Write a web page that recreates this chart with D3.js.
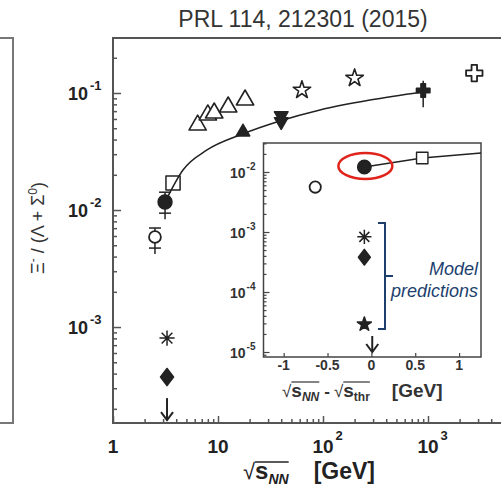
<!DOCTYPE html>
<html lang="en">
<head>
<meta charset="UTF-8">
<script src="https://cdnjs.cloudflare.com/ajax/libs/d3/7.8.5/d3.min.js"></script>
<title>Xi ratio</title>
<style>
  body { margin: 0; background: #fff; }
  svg { display: block; font-family: "Liberation Sans", Arial, Helvetica, sans-serif; }
</style>
</head>
<body>
<div id="chart"></div>
<script>
// ---- main panel data: sqrt(s_NN) [GeV] vs Xi-/(Lambda+Sigma0) ----
let openTriX = [6.4, 8.0, 9.2, 12.5, 18.1];
let openTriY = [0.0532, 0.0649, 0.0675, 0.0759, 0.0871];
let fillTriUpX = [17.3];
let fillTriUpY = [0.0464];
let fillTriDownX = [40, 40];
let fillTriDownY = [0.064, 0.057];
let openStarX = [63, 200];
let openStarY = [0.106, 0.134];
let fillCrossX = [900];
let fillCrossY = [0.105];
let openCrossX = [2760];
let openCrossY = [0.148];
let openSquareX = [3.73];
let openSquareY = [0.0170];
let fillCircleX = [3.13];
let fillCircleY = [0.0117];
let fillCircleErr = [[0.0094, 0.0142]];
let openCircleX = [2.51];
let openCircleY = [0.00588];
let openCircleErr = [[0.00473, 0.00702]];
let modelX = [3.27];
let asteriskY = [8.05e-4];
let diamondY = [3.74e-4];
let limitY = [2.47e-4];
let fitX = [3.13, 4.64, 7.86, 16.2, 38.9, 93.6, 280, 896];
let fitY = [0.0117, 0.0220, 0.0326, 0.0438, 0.0577, 0.0716, 0.087, 0.102];

// ---- inset data: sqrt(s_NN) - sqrt(s_thr) [GeV] ----
let inOpenCircleX = [-0.64];
let inOpenCircleY = [0.0056];
let inFillCircleX = [-0.08];
let inFillCircleY = [0.0121];
let inSquareX = [0.58];
let inSquareY = [0.0171];
let inFitX = [-0.08, 0.58, 1.25];
let inFitY = [0.0121, 0.0171, 0.0207];
let inModelX = [-0.08];
let inAsteriskY = [8.3e-4];
let inDiamondY = [3.8e-4];
let inStarY = [2.9e-5];
let inLimitX = [0.01];
let inLimitY = [1.85e-5];

// tick labels
let mainXTicks = [1, 10, 100, 1000];
let mainXLabels = [["1", ""], ["10", ""], ["10", "2"], ["10", "3"]];
let mainYTicks = [1e-3, 1e-2, 1e-1];
let mainYLabels = [["10", "-3"], ["10", "-2"], ["10", "-1"]];
let inXTicks = [-1, -0.5, 0, 0.5, 1];
let inXLabels = ["-1", "-0.5", "0", "0.5", "1"];
let inYTicks = [1e-5, 1e-4, 1e-3, 1e-2];
let inYLabels = [["10", "-5"], ["10", "-4"], ["10", "-3"], ["10", "-2"]];

let width = 501, height = 495;
let ink = "#222", axisCol = "#555", blue = "#1d3f6e";

let svg = d3.select("#chart").append("svg")
  .attr("width", width).attr("height", height);

// scales
let x = d3.scaleLog().domain([1, 1e4]).range([113, 533]);
let y = d3.scaleLog().domain([Math.pow(10, -3.82), Math.pow(10, -0.53)]).range([423, 38]);
let xi = d3.scaleLinear().domain([-1.23, 1.25]).range([263.5, 481]);
let yi = d3.scaleLog().domain([Math.pow(10, -5.083), Math.pow(10, -1.517)]).range([357, 143]);

// minor tick helper for log scales
function minors(scale) {
  let d = scale.domain(), out = [];
  for (let e = -6; e <= 4; e++) for (let k = 2; k <= 9; k++) {
    let v = k * Math.pow(10, e);
    if (v > d[0] && v < d[1]) out.push(v);
  }
  return out;
}

// text runs placed one after another (for sub/superscripts)
function runs(g, x0, y0, parts, fill) {
  let cx = x0, pos = [];
  parts.forEach(p => {
    let t = g.append("text").attr("x", cx).attr("y", y0 + (p.dy || 0))
      .attr("font-size", p.size)
      .attr("font-weight", p.bold ? "bold" : "normal")
      .attr("font-style", p.italic ? "italic" : "normal")
      .attr("fill", p.fill || fill || ink)
      .text(p.t);
    let w = t.node().getComputedTextLength();
    pos.push([cx, cx + w]);
    cx += w + (p.gap || 0);
  });
  return pos;
}

// custom symbols
let triUp = { draw(c, s) { let w = Math.sqrt(s), h = w * 0.866; c.moveTo(0, -h * 2 / 3); c.lineTo(w / 2, h / 3); c.lineTo(-w / 2, h / 3); c.closePath(); } };
let triDown = { draw(c, s) { let w = Math.sqrt(s), h = w * 0.866; c.moveTo(0, h * 2 / 3); c.lineTo(w / 2, -h / 3); c.lineTo(-w / 2, -h / 3); c.closePath(); } };
let diamond = { draw(c, s) { let h = Math.sqrt(s) / 2, w = h * 0.76; c.moveTo(0, -h); c.lineTo(w, 0); c.lineTo(0, h); c.lineTo(-w, 0); c.closePath(); } };
let asterisk = { draw(c, s) { let r = Math.sqrt(s) / 2, d = r * Math.SQRT1_2;
  c.moveTo(0, -r); c.lineTo(0, r); c.moveTo(-r, 0); c.lineTo(r, 0);
  c.moveTo(-d, -d); c.lineTo(d, d); c.moveTo(-d, d); c.lineTo(d, -d); } };
let square = { draw(c, s) { let h = Math.sqrt(s) / 2; c.rect(-h, -h, 2 * h, 2 * h); } };

function marks(g, sx, sy, xs, ys, type, size, filled, sw) {
  g.selectAll(null).data(d3.zip(xs, ys)).enter().append("path")
    .attr("transform", d => `translate(${sx(d[0])},${sy(d[1])})`)
    .attr("d", d3.symbol().type(type).size(size))
    .attr("fill", filled ? ink : (filled === null ? "none" : "#fff"))
    .attr("stroke", ink).attr("stroke-width", sw || 1.6)
    .attr("stroke-linejoin", "round");
}

function errBars(g, sx, sy, xs, errs, cap) {
  d3.zip(xs, errs).forEach(([xv, e]) => {
    let px = sx(xv);
    g.append("line").attr("x1", px).attr("x2", px).attr("y1", sy(e[0]) + 6).attr("y2", sy(e[1]))
      .attr("stroke", ink).attr("stroke-width", 1.5);
    e.forEach(v => g.append("line").attr("x1", px - cap).attr("x2", px + cap)
      .attr("y1", sy(v)).attr("y2", sy(v)).attr("stroke", ink).attr("stroke-width", 1.5));
  });
}

function arrows(g, sx, sy, xs, ys, len) {
  d3.zip(xs, ys).forEach(([xv, yv]) => {
    let px = sx(xv), py = sy(yv);
    g.append("line").attr("x1", px).attr("x2", px).attr("y1", py).attr("y2", py + len)
      .attr("stroke", ink).attr("stroke-width", 2);
    g.append("path").attr("d", `M${px - 6},${py + len - 8}L${px},${py + len}L${px + 6},${py + len - 8}`)
      .attr("fill", "none").attr("stroke", ink).attr("stroke-width", 2);
  });
}

// ---- leftover edge of the neighbouring panel ----
svg.append("path").attr("d", "M0,38H13V423H0")
  .attr("fill", "none").attr("stroke", "#777").attr("stroke-width", 2);

// ---- title ----
svg.append("text").attr("x", 303).attr("y", 27).attr("text-anchor", "middle")
  .attr("font-size", 23).attr("fill", "#333").text("PRL 114, 212301 (2015)");

// ---- main axes ----
let gx = svg.append("g").attr("transform", "translate(0,423)");
gx.call(d3.axisBottom(x).tickValues(mainXTicks).tickSize(-7).tickFormat(""));
gx.call(g => g.append("g").call(d3.axisBottom(x).tickValues(minors(x)).tickSize(-4).tickFormat("")));
let gy = svg.append("g").attr("transform", "translate(113,0)");
gy.call(d3.axisLeft(y).tickValues(mainYTicks).tickSize(-8).tickFormat(""));
gy.call(g => g.append("g").call(d3.axisLeft(y).tickValues(minors(y)).tickSize(-4).tickFormat("")));
svg.selectAll(".domain").remove();
svg.selectAll(".tick line").attr("stroke", axisCol).attr("stroke-width", 1.5);

svg.append("path").attr("d", "M520,38H113V423H520")
  .attr("fill", "none").attr("stroke", axisCol).attr("stroke-width", 2);

// x tick labels
mainXTicks.forEach((v, i) => {
  let lab = mainXLabels[i];
  let t = svg.append("text").attr("x", x(v)).attr("y", 453).attr("text-anchor", "middle")
    .attr("font-size", 19).attr("font-weight", "bold").attr("fill", ink).text(lab[0]);
  if (lab[1]) {
    let w = t.node().getComputedTextLength();
    svg.append("text").attr("x", x(v) + w / 2 + 2).attr("y", 440)
      .attr("font-size", 13).attr("font-weight", "bold").attr("fill", ink).text(lab[1]);
  }
});
// y tick labels
mainYTicks.forEach((v, i) => {
  let lab = mainYLabels[i];
  runs(svg, 68, y(v) + 7, [
    { t: lab[0], size: 18, bold: true, gap: 2 },
    { t: lab[1], size: 13, bold: true, dy: -10 }
  ]);
});

// axis titles
let xt = runs(svg, 243, 479, [
  { t: "\u221A", size: 22 },
  { t: "s", size: 24, bold: true },
  { t: "NN", size: 14, bold: true, italic: true, dy: 5, gap: 25 },
  { t: "[GeV]", size: 23, bold: true }
]);
svg.append("line").attr("x1", xt[1][0]).attr("x2", xt[2][1]).attr("y1", 462).attr("y2", 462)
  .attr("stroke", ink).attr("stroke-width", 1.3);

let yl = svg.append("text").attr("transform", "translate(44,228) rotate(-90)")
  .attr("text-anchor", "middle").attr("font-size", 18).attr("fill", "#333");
yl.append("tspan").text("\u039E");
yl.append("tspan").attr("dy", -7).attr("font-size", 12).text("-");
yl.append("tspan").attr("dy", 7).text("\u00A0/ (\u039B + \u03A3");
yl.append("tspan").attr("dy", -7).attr("font-size", 12).text("0");
yl.append("tspan").attr("dy", 7).text(")");

// ---- main data ----
let main = svg.append("g");
main.append("path").datum(d3.zip(fitX, fitY))
  .attr("d", d3.line().x(d => x(d[0])).y(d => y(d[1])).curve(d3.curveMonotoneX))
  .attr("fill", "none").attr("stroke", ink).attr("stroke-width", 1.5);

marks(main, x, y, openTriX, openTriY, triUp, 300, false);
marks(main, x, y, fillTriUpX, fillTriUpY, triUp, 180, true);
marks(main, x, y, fillTriDownX, fillTriDownY, triDown, 180, true);
marks(main, x, y, openStarX, openStarY, d3.symbolStar, 95, false);
marks(main, x, y, fillCrossX, fillCrossY, d3.symbolCross, 100, true);
errBars(main, x, y, fillCrossX, [[0.085, 0.127]], 0);
marks(main, x, y, openCrossX, openCrossY, d3.symbolCross, 150, false, 1.8);
marks(main, x, y, openSquareX, openSquareY, square, 200, null, 1.5);
errBars(main, x, y, fillCircleX, fillCircleErr, 6);
marks(main, x, y, fillCircleX, fillCircleY, d3.symbolCircle, 150, true);
errBars(main, x, y, openCircleX, openCircleErr, 6);
marks(main, x, y, openCircleX, openCircleY, d3.symbolCircle, 110, false, 1.8);
marks(main, x, y, modelX, asteriskY, asterisk, 230, false, 1.5);
marks(main, x, y, modelX, diamondY, diamond, 290, true);
arrows(main, x, y, modelX, limitY, 22);

// ---- inset ----
let ins = svg.append("g");
ins.append("rect").attr("x", 263.5).attr("y", 143).attr("width", 217.5).attr("height", 214)
  .attr("fill", "#fff").attr("stroke", "#444").attr("stroke-width", 1.5);

let ix = ins.append("g").attr("transform", "translate(0,357)");
ix.call(d3.axisBottom(xi).tickValues(inXTicks).tickSize(-4).tickFormat(""));
let iy = ins.append("g").attr("transform", "translate(263.5,0)");
iy.call(d3.axisLeft(yi).tickValues(inYTicks).tickSize(-6).tickFormat(""));
iy.call(g => g.append("g").call(d3.axisLeft(yi).tickValues(minors(yi)).tickSize(-3).tickFormat("")));
ins.selectAll(".domain").remove();
ins.selectAll(".tick line").attr("stroke", "#444").attr("stroke-width", 1.2);

inXTicks.forEach((v, i) => {
  ins.append("text").attr("x", xi(v)).attr("y", 370).attr("text-anchor", "middle")
    .attr("font-size", 14).attr("font-weight", "bold").attr("fill", "#333").text(inXLabels[i]);
});
inYTicks.forEach((v, i) => {
  let lab = inYLabels[i];
  runs(ins, 230, yi(v) + 6, [
    { t: lab[0], size: 14, bold: true, gap: 1 },
    { t: lab[1], size: 10, bold: true, dy: -8 }
  ], "#333");
});

let it = runs(ins, 282, 397, [
  { t: "\u221A", size: 17 },
  { t: "s", size: 19, bold: true },
  { t: "NN", size: 12, bold: true, italic: true, dy: 4, gap: 5 },
  { t: "-", size: 17, bold: true, gap: 4 },
  { t: "\u221A", size: 17 },
  { t: "s", size: 19, bold: true },
  { t: "thr", size: 12, bold: true, dy: 4, gap: 22 },
  { t: "[GeV]", size: 19, bold: true }
], "#333");
[[1, 2], [5, 6]].forEach(([a, b]) => {
  ins.append("line").attr("x1", it[a][0]).attr("x2", it[b][1]).attr("y1", 382).attr("y2", 382)
    .attr("stroke", "#333").attr("stroke-width", 1.2);
});

ins.append("path").datum(d3.zip(inFitX, inFitY))
  .attr("d", d3.line().x(d => xi(d[0])).y(d => yi(d[1])))
  .attr("fill", "none").attr("stroke", ink).attr("stroke-width", 1.4);
marks(ins, xi, yi, inOpenCircleX, inOpenCircleY, d3.symbolCircle, 100, false, 1.8);
marks(ins, xi, yi, inFillCircleX, inFillCircleY, d3.symbolCircle, 140, true);
marks(ins, xi, yi, inSquareX, inSquareY, square, 130, false, 1.4);
marks(ins, xi, yi, inModelX, inAsteriskY, asterisk, 200, false, 1.5);
marks(ins, xi, yi, inModelX, inDiamondY, diamond, 240, true);
marks(ins, xi, yi, inModelX, inStarY, d3.symbolStar, 60, true);
arrows(ins, xi, yi, inLimitX, inLimitY, 16);

// red ellipse around the measured point
ins.append("ellipse").attr("cx", xi(inFillCircleX[0]) + 1).attr("cy", yi(inFillCircleY[0]) - 1)
  .attr("rx", 27).attr("ry", 13)
  .attr("fill", "none").attr("stroke", "#e0241b").attr("stroke-width", 2.5);

// model predictions bracket + text
ins.append("path").attr("d", "M378,223H385V329H378M385,276H393")
  .attr("fill", "none").attr("stroke", blue).attr("stroke-width", 2);
ins.append("text").attr("x", 478).attr("y", 275).attr("text-anchor", "end")
  .attr("font-size", 18).attr("font-style", "italic").attr("fill", blue).text("Model");
ins.append("text").attr("x", 478).attr("y", 297).attr("text-anchor", "end")
  .attr("font-size", 18).attr("font-style", "italic").attr("fill", blue).text("predictions");
</script>
</body>
</html>
